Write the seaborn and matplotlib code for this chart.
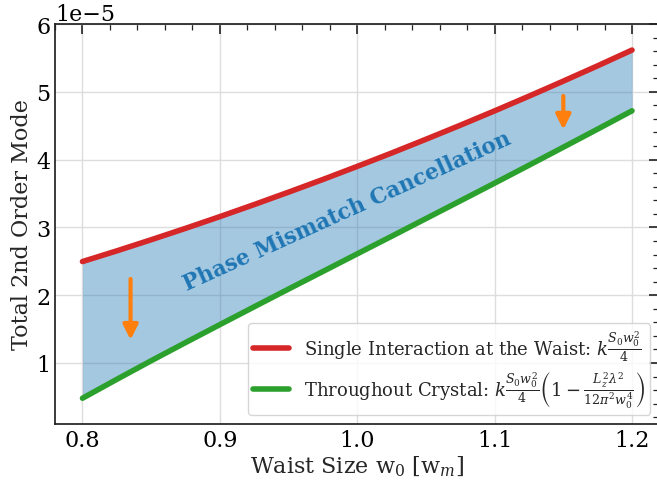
import matplotlib
matplotlib.use('Agg')
import matplotlib.pyplot as plt
import seaborn as sns
import pandas as pd
from matplotlib.ticker import MultipleLocator

# Waist size values and the two curves (units of 1e-5)
waist = [0.800, 0.825, 0.850, 0.875, 0.900, 0.925, 0.950, 0.975, 1.000,
         1.025, 1.050, 1.075, 1.100, 1.125, 1.150, 1.175, 1.200]
singleInteraction = [2.496, 2.654, 2.818, 2.986, 3.159, 3.337, 3.520, 3.707, 3.900,
                     4.097, 4.300, 4.507, 4.719, 4.936, 5.158, 5.384, 5.616]
throughoutCrystal = [0.480, 0.759, 1.033, 1.301, 1.566, 1.829, 2.091, 2.350, 2.610,
                     2.869, 3.130, 3.391, 3.653, 3.917, 4.183, 4.450, 4.720]

labelSingle = r'Single Interaction at the Waist: $k\frac{S_0 w_0^2}{4}$'
labelCrystal = (r'Throughout Crystal: $k\frac{S_0 w_0^2}{4}'
                r'\left(1-\frac{L_z^2\lambda^2}{12\pi^2 w_0^4}\right)$')

df = pd.DataFrame({
    'w0': waist,
    'single': [v * 1e-5 for v in singleInteraction],
    'crystal': [v * 1e-5 for v in throughoutCrystal],
})

sns.set_theme(style='whitegrid')
plt.rcParams['font.family'] = ['DejaVu Serif']
plt.rcParams['mathtext.fontset'] = 'dejavuserif'
plt.rcParams['axes.edgecolor'] = '#222222'
plt.rcParams['grid.color'] = '#dddddd'

fig = plt.figure(figsize=(6.57, 4.85), dpi=100)
# axes run slightly past the right edge of the image, as in the original
ax = fig.add_axes([0.0837, 0.1237, 0.9201, 0.8247])

ax.fill_between(df['w0'], df['crystal'], df['single'], color='tab:blue', alpha=0.4, lw=0)
sns.lineplot(data=df, x='w0', y='single', color='tab:red', lw=4, label=labelSingle, ax=ax)
sns.lineplot(data=df, x='w0', y='crystal', color='tab:green', lw=4, label=labelCrystal, ax=ax)

# arrows showing the reduction
arrowProps = dict(arrowstyle='-|>', color='tab:orange', lw=3, mutation_scale=22)
ax.annotate('', xy=(0.835, 1.30e-5), xytext=(0.835, 2.28e-5), arrowprops=arrowProps)
ax.annotate('', xy=(1.15, 4.40e-5), xytext=(1.15, 4.98e-5), arrowprops=arrowProps)

ax.text(0.993, 3.24e-5, 'Phase Mismatch Cancellation', rotation=24.4, fontsize=15.5,
        fontweight='bold', color='#1f77b4', ha='center', va='center')

ax.set_xlim(0.78, 1.22)
ax.set_ylim(0.1e-5, 6e-5)
ax.xaxis.set_major_locator(MultipleLocator(0.1))
ax.xaxis.set_minor_locator(MultipleLocator(0.02))
ax.yaxis.set_major_locator(MultipleLocator(1e-5))
ax.yaxis.set_minor_locator(MultipleLocator(0.2e-5))
ax.tick_params(which='both', direction='in', top=True, right=True, colors='#222222',
               labelcolor='black')
ax.tick_params(which='major', length=7, width=1.2, labelsize=16)
ax.tick_params(which='minor', length=4, width=0.9)
ax.yaxis.get_offset_text().set_fontsize(16)
ax.grid(which='minor', visible=False)

ax.set_xlabel(r'Waist Size w$_0$ [w$_m$]', fontsize=16, labelpad=2)
ax.set_ylabel('Total 2nd Order Mode', fontsize=16, labelpad=2)
ax.legend(loc='lower right', fontsize=13, labelspacing=0.3, borderpad=0.3)

fig.savefig('out.png', dpi=100)
